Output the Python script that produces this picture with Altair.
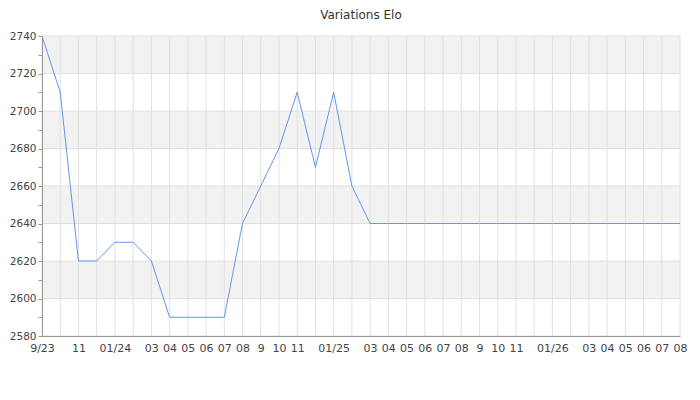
import json
import altair as alt
import pandas as pd

month_labels = ["9/23", "", "11", "", "01/24", "", "03", "04", "05", "06", "07", "08",
                "9", "10", "11", "", "01/25", "", "03", "04", "05", "06", "07", "08",
                "9", "10", "11", "", "01/26", "", "03", "04", "05", "06", "07", "08"]
elo = [2740, 2710, 2620, 2620, 2630, 2630, 2620, 2590, 2590, 2590, 2590, 2640,
       2660, 2680, 2710, 2670, 2710, 2660] + [2640] * 18
band_lo = [2600, 2640, 2680, 2720]
band_hi = [2620, 2660, 2700, 2740]
grid_y = [2580, 2600, 2620, 2640, 2660, 2680, 2700, 2720, 2740]
tick_y = list(range(2580, 2741, 10))

df = pd.DataFrame({"i": list(range(len(elo))), "elo": elo})
bands = pd.DataFrame({"lo": band_lo, "hi": band_hi})
grid = pd.DataFrame({"y": grid_y})

W, H = 638, 300
xscale = alt.Scale(domain=[0, len(elo) - 1], nice=False, zero=False)
yscale = alt.Scale(domain=[2580, 2740], nice=False, zero=False)

label_expr = json.dumps(month_labels) + "[datum.value]"


def y_axis():
    return alt.Axis(values=tick_y, format="d",
                    labelExpr="datum.value % 20 == 0 ? datum.label : ''",
                    grid=False, tickSize=4, tickColor="#999999",
                    labelPadding=2, labelOverlap=False, labelColor="#444444",
                    labelFontSize=10.5, labelFont="DejaVu Sans",
                    domainColor="#999999", zindex=1)


def x_axis():
    return alt.Axis(values=list(range(len(elo))), labelExpr=label_expr,
                    grid=False, ticks=False,
                    labelPadding=6, labelOverlap=False, labelFlush=False,
                    labelColor="#444444", labelFontSize=11,
                    labelFont="DejaVu Sans", domainColor="#999999", zindex=1)


band_layer = alt.Chart(bands).mark_rect(color="#f2f2f2").encode(
    x=alt.value(0), x2=alt.value(W),
    y=alt.Y("lo:Q", scale=yscale, axis=y_axis(), title=None),
    y2="hi:Q",
)

hgrid_layer = alt.Chart(grid).mark_rule(color="#e0e0e0", strokeWidth=1).encode(
    x=alt.value(0), x2=alt.value(W),
    y=alt.Y("y:Q", scale=yscale, axis=y_axis(), title=None),
)

vgrid_layer = alt.Chart(df).mark_rule(color="#e0e0e0", strokeWidth=1).encode(
    x=alt.X("i:Q", scale=xscale, axis=x_axis(), title=None),
    y=alt.value(0), y2=alt.value(H),
)

line_layer = alt.Chart(df).mark_line(color="#6495ed", strokeWidth=1).encode(
    x=alt.X("i:Q", scale=xscale, axis=x_axis(), title=None),
    y=alt.Y("elo:Q", scale=yscale, axis=y_axis(), title=None),
)

chart = alt.layer(band_layer, hgrid_layer, vgrid_layer, line_layer).properties(
    width=W, height=H,
    title=alt.TitleParams("Variations Elo", fontSize=12, fontWeight="normal",
                          font="DejaVu Sans", color="#333333", anchor="middle",
                          frame="group", offset=9),
    autosize=alt.AutoSizeParams(type="none"),
    padding={"left": 34, "top": 28, "right": 12, "bottom": 40},
).configure_view(stroke=None)

chart.save("out.html", embed_options={"renderer": "svg", "actions": False})
